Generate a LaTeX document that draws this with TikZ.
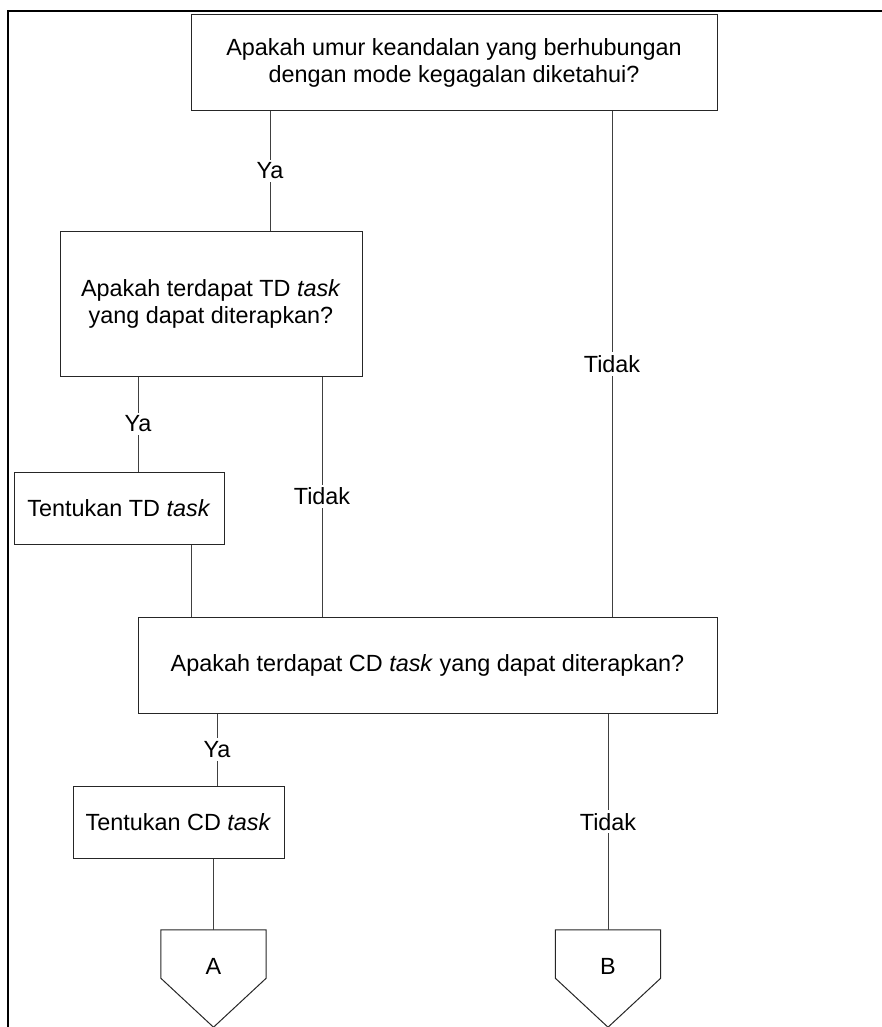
\documentclass[tikz,border=0pt]{standalone}
\usepackage{fontspec}
\setmainfont{Liberation Sans}
\usetikzlibrary{calc}
\tikzset{
  box/.style={draw=black!85, line width=1pt, inner sep=0pt, align=center,
    font=\fontsize{23.4}{27}\selectfont},
  conn/.style={draw=black!75, line width=1pt},
  lbl/.style={fill=white, inner sep=3pt, font=\fontsize{23.4}{27}\selectfont},
  offpage/.style={minimum width=105pt, minimum height=48pt, inner sep=0pt},
  letter/.style={inner sep=0pt, font=\fontsize{23.4}{27}\selectfont},
  frame/.style={line width=2.5pt, black}
}
\begin{document}
\begin{tikzpicture}[x=1pt,y=-1pt]
\useasboundingbox (0,0) rectangle (882,1027);
% frame
\coordinate (fl) at (8,1027);
\coordinate (fc) at (8,11);
\coordinate (fr) at (882,11);
\draw[frame] (fl) -- (fc) -- (fr);

% nodes
\node[box, minimum width=526pt, minimum height=96pt] (n1) at (454,63)
  {Apakah umur keandalan yang berhubungan\\dengan mode kegagalan diketahui?};
\node[box, minimum width=302pt, minimum height=145pt] (n2) at (211,303.5)
  {Apakah terdapat TD \textit{task}\\yang dapat diterapkan?};
\node[box, minimum width=210pt, minimum height=72pt] (n3) at (119,508)
  {Tentukan TD \textit{task}};
\node[box, minimum width=579pt, minimum height=96pt] (n4) at (427.5,665)
  {Apakah terdapat CD \textit{task} yang dapat diterapkan?};
\node[box, minimum width=211pt, minimum height=72pt] (n5) at (178.5,822)
  {Tentukan CD \textit{task}};

% off-page connectors
\node[offpage] (A) at (213.5,954) {};
\node[offpage] (B) at (608,954) {};
\draw[box] (A.north west) -- (A.north east) -- (A.south east)
  -- ($(A.south)+(0,49)$) -- (A.south west) -- cycle;
\draw[box] (B.north west) -- (B.north east) -- (B.south east)
  -- ($(B.south)+(0,49)$) -- (B.south west) -- cycle;
\node[letter] (Alab) at (213.5,966) {A};
\node[letter] (Blab) at (608,966) {B};

% connectors
\draw[conn] (n1.south -| 270,0) -- (n2.north -| 270,0)
  node[midway, lbl] {Ya};
\draw[conn] (n1.south -| 612,0) -- (n4.north -| 612,0)
  node[midway, lbl] {Tidak};
\draw[conn] (n2.south -| 138,0) -- (n3.north -| 138,0)
  node[midway, lbl] {Ya};
\draw[conn] (n2.south -| 322,0) -- (n4.north -| 322,0)
  node[midway, lbl] {Tidak};
\draw[conn] (n3.south -| 191,0) -- (n4.north -| 191,0);
\draw[conn] (n4.south -| 217,0) -- (n5.north -| 217,0)
  node[midway, lbl] {Ya};
\draw[conn] (n5.south -| 213.5,0) -- (A.north);
\draw[conn] (n4.south -| 608,0) -- (B.north)
  node[midway, lbl] {Tidak};
\end{tikzpicture}
\end{document}
